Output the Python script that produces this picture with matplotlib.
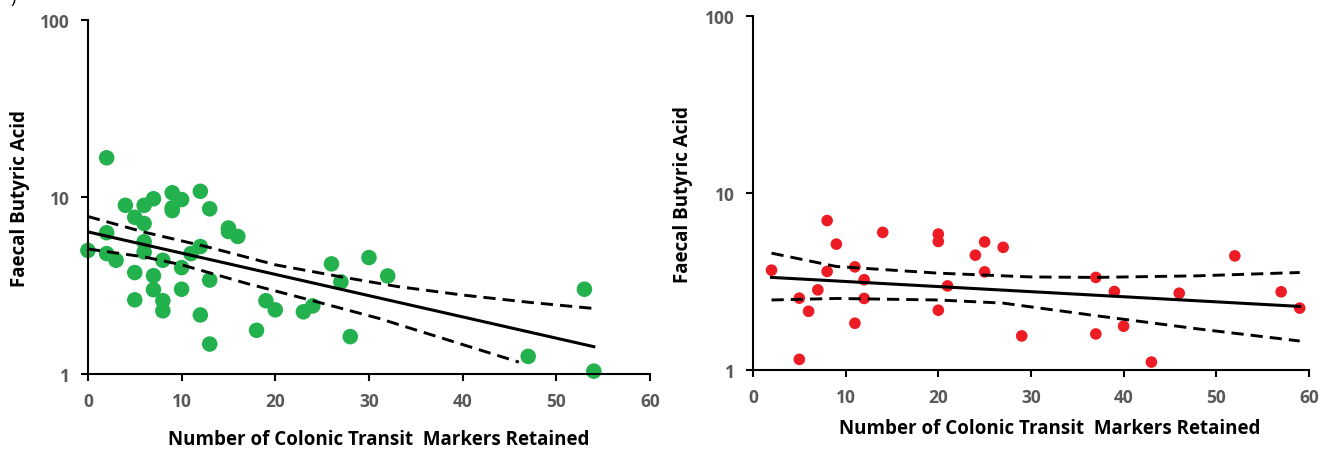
import matplotlib
matplotlib.use("Agg")
import matplotlib.pyplot as plt
from matplotlib.ticker import FixedLocator, NullLocator, FixedFormatter

plt.rcParams['font.family'] = ['Open Sans', 'DejaVu Sans']

# left panel: green points
left_x = [0, 2, 2, 2, 3, 4, 5, 5, 5, 6, 6, 6, 6, 7, 7, 7, 8, 8, 8,
          9, 9, 9, 10, 10, 10, 11, 12, 12, 12, 13, 13, 13, 15, 15, 16,
          18, 19, 20, 23, 24, 26, 27, 28, 30, 32, 47, 53, 54]
left_y = [5.0, 16.7, 6.3, 4.8, 4.4, 9.0, 7.7, 3.75, 2.63, 9.0, 7.1, 5.6, 4.9,
          9.8, 3.6, 3.0, 4.4, 2.6, 2.28, 10.6, 8.7, 8.4, 9.7, 4.0, 3.02,
          4.8, 10.8, 5.26, 2.16, 8.6, 3.4, 1.48, 6.7, 6.4, 6.0,
          1.77, 2.6, 2.31, 2.25, 2.43, 4.2, 3.32, 1.63, 4.56, 3.59, 1.26, 3.02, 1.04]
left_fit_x = [0, 54]
left_fit_y = [6.37, 1.43]
left_upper_x = [0, 6, 13, 20, 27, 33, 40, 47, 54]
left_upper_y = [7.78, 6.35, 5.2, 4.15, 3.55, 3.13, 2.8, 2.55, 2.35]
left_lower_x = [0, 6, 10, 17, 24, 31, 40, 46]
left_lower_y = [5.1, 4.6, 4.15, 3.25, 2.6, 2.07, 1.47, 1.17]

# right panel: red points
right_x = [2, 5, 5, 6, 7, 8, 8, 9, 11, 11, 12, 12, 14, 20, 20, 20, 21,
           24, 25, 25, 27, 29, 37, 37, 39, 40, 43, 46, 52, 57, 59]
right_y = [3.67, 2.55, 1.15, 2.15, 2.84, 7.0, 3.61, 5.15, 3.83, 1.84, 3.24, 2.54,
           6.0, 5.87, 5.33, 2.18, 2.99, 4.46, 5.3, 3.59, 4.94, 1.56,
           3.34, 1.6, 2.78, 1.77, 1.11, 2.72, 4.42, 2.77, 2.24]
right_fit_x = [2, 59]
right_fit_y = [3.34, 2.29]
right_upper_x = [2, 9, 20, 30, 37, 48, 59]
right_upper_y = [4.58, 3.85, 3.53, 3.36, 3.34, 3.41, 3.56]
right_lower_x = [2, 9, 20, 27, 37, 48, 59]
right_lower_y = [2.49, 2.54, 2.49, 2.39, 2.03, 1.71, 1.46]

x_ticks = [0, 10, 20, 30, 40, 50, 60]
y_ticks = [1, 10, 100]
x_label = "Number of Colonic Transit  Markers Retained"
y_label = "Faecal Butyric Acid"

fig = plt.figure(figsize=(13.32, 4.52), dpi=100)
ax1 = fig.add_axes([0.066, 0.170, 0.422, 0.783])
ax2 = fig.add_axes([0.5653, 0.179, 0.4174, 0.783])

panels = [
    (ax1, left_x, left_y, left_fit_x, left_fit_y, left_upper_x, left_upper_y,
     left_lower_x, left_lower_y, "#22b14c", 125),
    (ax2, right_x, right_y, right_fit_x, right_fit_y, right_upper_x, right_upper_y,
     right_lower_x, right_lower_y, "#ed1c24", 70),
]

for ax, xs, ys, fx, fy, ux, uy, lx, ly, col, sz in panels:
    ax.scatter(xs, ys, s=sz, color=col, edgecolors="none", zorder=2, clip_on=False)
    ax.plot(fx, fy, color="black", lw=2.2, zorder=3)
    ax.plot(ux, uy, color="black", lw=2.1, ls=(0, (4.2, 2.4)), zorder=3)
    ax.plot(lx, ly, color="black", lw=2.1, ls=(0, (4.2, 2.4)), zorder=3)
    ax.set_yscale("log")
    ax.set_xlim(0, 60)
    ax.set_ylim(1, 100)
    ax.xaxis.set_major_locator(FixedLocator(x_ticks))
    ax.yaxis.set_major_locator(FixedLocator(y_ticks))
    ax.yaxis.set_major_formatter(FixedFormatter([str(t) for t in y_ticks]))
    ax.yaxis.set_minor_locator(NullLocator())
    for s in ["top", "right"]:
        ax.spines[s].set_visible(False)
    for s in ["left", "bottom"]:
        ax.spines[s].set_linewidth(1.5)
    ax.tick_params(axis="both", direction="out", length=5, width=1.5,
                   labelsize=12.5, labelcolor="#595959", pad=8)
    for lab in ax.get_xticklabels() + ax.get_yticklabels():
        lab.set_fontweight("bold")

fig.text(0.284, 0.026, x_label, ha="center", va="center", fontsize=13.5, fontweight="bold")
fig.text(0.788, 0.050, x_label, ha="center", va="center", fontsize=13.5, fontweight="bold")
fig.text(0.015, 0.56, y_label, ha="center", va="center", rotation=90, fontsize=13.5, fontweight="bold")
fig.text(0.513, 0.569, y_label, ha="center", va="center", rotation=90, fontsize=13.5, fontweight="bold")
fig.text(0.010, 1.005, ")", ha="center", va="center", fontsize=13)

fig.savefig("out.png", dpi=100)
